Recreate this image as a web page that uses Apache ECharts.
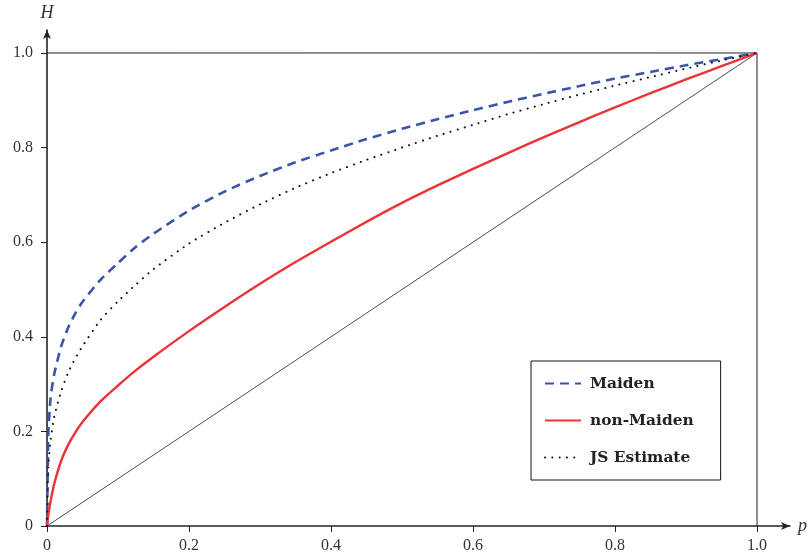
<!DOCTYPE html>
<html>
<head>
<meta charset="utf-8">
<script src="https://cdn.jsdelivr.net/npm/echarts@6/dist/echarts.min.js"></script>
<style>html,body{margin:0;padding:0;background:#fff;}#c{width:811px;height:558px;}</style>
</head>
<body>
<div id="c"></div>
<script>
// p values (x) at which the curves were read
var pValues    = [0, 0.002, 0.005, 0.01, 0.02, 0.03, 0.04, 0.05, 0.075, 0.1, 0.125, 0.15, 0.2, 0.25, 0.3, 0.35, 0.4, 0.45, 0.5, 0.55, 0.6, 0.65, 0.7, 0.75, 0.8, 0.85, 0.9, 0.95, 1.0];
var maiden     = [0, 0.2, 0.27, 0.32, 0.38, 0.42, 0.45, 0.474, 0.52, 0.556, 0.59, 0.618, 0.667, 0.707, 0.74, 0.769, 0.794, 0.818, 0.84, 0.86, 0.879, 0.897, 0.914, 0.93, 0.946, 0.96, 0.974, 0.987, 1.0];
var nonMaiden  = [0, 0.025, 0.052, 0.088, 0.138, 0.172, 0.198, 0.22, 0.263, 0.297, 0.329, 0.358, 0.412, 0.463, 0.512, 0.558, 0.601, 0.643, 0.683, 0.72, 0.755, 0.789, 0.822, 0.854, 0.885, 0.915, 0.944, 0.972, 1.0];
var jsEstimate = [0, 0.13, 0.18, 0.23, 0.285, 0.325, 0.355, 0.38, 0.435, 0.475, 0.51, 0.543, 0.597, 0.641, 0.68, 0.715, 0.746, 0.774, 0.80, 0.825, 0.848, 0.871, 0.892, 0.912, 0.931, 0.949, 0.967, 0.984, 1.0];
var seriesNames = ['Maiden', 'non-Maiden', 'JS Estimate'];
var diagonalP = [0, 1];
var diagonalH = [0, 1];
var frameP = [0, 1, 1];
var frameH = [1, 1, 0];
var tickValues = [0, 0.2, 0.4, 0.6, 0.8, 1.0];
var tickLabels = ['0', '0.2', '0.4', '0.6', '0.8', '1.0'];

function pairs(xs, ys) { return xs.map(function (x, i) { return [x, ys[i]]; }); }
function fmt(v) { var i = tickValues.findIndex(function (t) { return Math.abs(t - v) < 1e-9; }); return i >= 0 ? tickLabels[i] : ''; }

var serif = '"Liberation Serif", "DejaVu Serif", serif';
var chart = echarts.init(document.getElementById('c'));
var axisCommon = {
  type: 'value', min: 0,
  splitLine: { show: false },
  axisLabel: { customValues: tickValues, formatter: fmt, color: '#333', fontFamily: serif, fontSize: 16 },
  axisTick: { customValues: tickValues, length: 6, lineStyle: { color: '#222', width: 1 } }
};
chart.setOption({
  animation: false,
  grid: { left: 47, right: 21, top: 30, bottom: 32, containLabel: false },
  xAxis: [
    Object.assign({}, axisCommon, {
      max: 1.0465, name: 'p', nameLocation: 'end', nameGap: 8,
      nameTextStyle: { fontFamily: serif, fontStyle: 'italic', fontSize: 18, color: '#333', verticalAlign: 'middle' },
      axisLine: { show: true, symbol: ['none', 'arrow'], symbolSize: [6, 9], lineStyle: { color: '#222', width: 1.6 } },
      axisLabel: Object.assign({}, axisCommon.axisLabel, { margin: 12 })
    }),
    Object.assign({}, axisCommon, {
      max: 1.0465, axisLine: { show: false }, axisLabel: { show: false },
      axisTick: { customValues: tickValues, inside: true, length: 6, lineStyle: { color: '#222', width: 1 } }
    })
  ],
  yAxis: [
    Object.assign({}, axisCommon, {
      max: 1.0486, name: 'H', nameLocation: 'end', nameGap: 8,
      nameTextStyle: { fontFamily: serif, fontStyle: 'italic', fontSize: 18, color: '#333', align: 'center' },
      axisLine: { show: true, symbol: ['none', 'arrow'], symbolSize: [6, 9], lineStyle: { color: '#222', width: 1.6 } },
      axisLabel: Object.assign({}, axisCommon.axisLabel, { margin: 14 })
    }),
    Object.assign({}, axisCommon, {
      max: 1.0486, axisLine: { show: false }, axisLabel: { show: false },
      axisTick: { customValues: tickValues, inside: true, length: 6, lineStyle: { color: '#222', width: 1 } }
    })
  ],
  legend: {
    data: seriesNames, orient: 'vertical', left: 531, top: 361,
    padding: [15, 27, 15, 13], itemGap: 22, itemWidth: 36, itemHeight: 14,
    borderColor: '#111', borderWidth: 1, backgroundColor: '#fff',
    itemStyle: { opacity: 0 },
    textStyle: { fontFamily: '"DejaVu Serif", serif', fontWeight: 'bold', fontSize: 15.4, color: '#222', padding: [0, 0, 0, 4] }
  },
  series: [
    { type: 'line', name: 'diag', data: pairs(diagonalP, diagonalH), showSymbol: false, silent: true,
      lineStyle: { color: '#222', width: 0.8 }, z: 1 },
    { type: 'line', name: 'frame', data: pairs(frameP, frameH), showSymbol: false, silent: true,
      lineStyle: { color: '#222', width: 1 }, z: 1 },
    { type: 'line', name: seriesNames[0], data: pairs(pValues, maiden), smooth: 0.2, symbol: 'none',
      itemStyle: { color: '#3a55a6' }, lineStyle: { color: '#3a55a6', width: 2.6, type: [9, 6] }, z: 3 },
    { type: 'line', name: seriesNames[1], data: pairs(pValues, nonMaiden), smooth: 0.2, symbol: 'none',
      itemStyle: { color: '#ec3336' }, lineStyle: { color: '#ec3336', width: 2.4 }, z: 3 },
    { type: 'line', name: seriesNames[2], data: pairs(pValues, jsEstimate), smooth: 0.2, symbol: 'none',
      itemStyle: { color: '#111' }, lineStyle: { color: '#111', width: 2, type: [0.1, 7.2], cap: 'round' }, z: 3 }
  ]
});
</script>
</body>
</html>
